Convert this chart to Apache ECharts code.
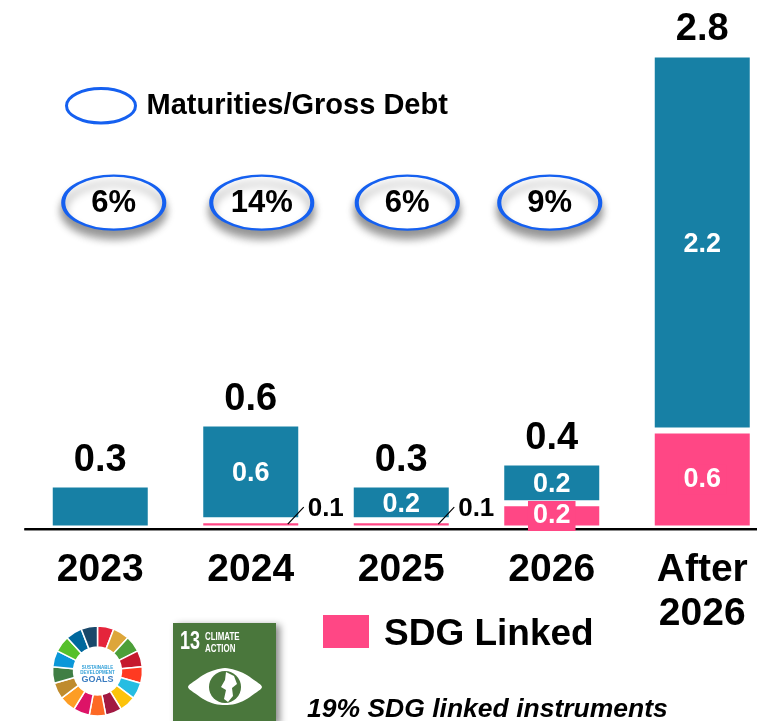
<!DOCTYPE html>
<html>
<head>
<meta charset="utf-8">
<style>html,body{margin:0;padding:0;background:#fff}#c{width:757px;height:721px}</style>
<script src="https://cdn.jsdelivr.net/npm/echarts@6/dist/echarts.min.js"></script>
</head>
<body>
<div id="c"></div>
<script>
var categories = ['2023', '2024', '2025', '2026', 'After\n2026'];
var conventional = [0.26, 0.57, 0.21, 0.24, 2.22];
var sdgLinked = [null, 0.05, 0.05, 0.15, 0.58];
var conventionalLabels = ['', '0.6', '0.2', '0.2', '2.2'];
var sdgLabels = ['', '', '', '0.2', '0.6'];
var totalLabels = ['0.3', '0.6', '0.3', '0.4', '2.8'];
var calloutLabels = ['', '0.1', '0.1', '', ''];
var maturityShare = ['6%', '14%', '6%', '9%'];
var sdgGoalColors = ['#E5243B','#DDA63A','#4C9F38','#C5192D','#FF3A21','#26BDE2','#FCC30B','#A21942','#FD6925','#DD1367','#FD9D24','#BF8B2E','#3F7E44','#0A97D9','#56C02B','#00689D','#19486A'];

var BLUE = '#1780A5', PINK = '#FF4785', RING = '#1560F0', FONT = '"Liberation Sans", Arial, sans-serif';
var ellipseNudge = [13.5, 11, 6, -2];
var ellipseLevel = 1.925;

var totals = conventional.map(function (v, i) { return +(v + (sdgLinked[i] || 0)).toFixed(2); });

var chart = echarts.init(document.getElementById('c'), null, { renderer: 'canvas' });
chart.setOption({
  animation: false,
  backgroundColor: '#fff',
  textStyle: { fontFamily: FONT },
  grid: { left: 25, top: 20.6, width: 752.5, height: 508, outerBoundsMode: 'none' },
  xAxis: {
    type: 'category', data: categories, z: 10,
    axisTick: { show: false },
    axisLine: { lineStyle: { color: '#000', width: 2, shadowColor: '#888', shadowOffsetY: 1, shadowBlur: 0 } },
    axisLabel: { interval: 0, fontSize: 39, fontWeight: 'bold', color: '#000', lineHeight: 44, margin: 20, fontFamily: FONT }
  },
  yAxis: { type: 'value', min: 0, max: 3, show: false, splitLine: { show: false } },
  legend: [
    { data: ['Maturities/Gross Debt'], left: 65, top: 87, padding: 0, itemWidth: 69, itemHeight: 36, selectedMode: false,
      icon: 'path://M0,50a100,50 0 1,0 200,0a100,50 0 1,0 -200,0z',
      itemStyle: { shadowBlur: 0, shadowOffsetY: 0, color: '#fff', borderColor: RING, borderWidth: 3 },
      textStyle: { fontSize: 29, fontWeight: 'bold', color: '#000', fontFamily: FONT, padding: [2, 0, 0, 6] } },
    { data: ['SDG Linked'], left: 323, top: 615, padding: 0, itemWidth: 46, itemHeight: 33, selectedMode: false,
      icon: 'rect',
      itemStyle: { borderWidth: 0, color: PINK },
      formatter: '{a|{name}}',
      textStyle: { color: '#000', padding: [0, 0, 0, 10],
        rich: { a: { fontSize: 37, fontWeight: 'bold', color: '#000', fontFamily: FONT, padding: [6, 0, 0, 0] } } } }
  ],
  series: [
    { name: 'SDG Linked', type: 'bar', stack: 'debt', barWidth: 101, z: 2,
      itemStyle: { color: PINK, borderColor: '#fff', borderWidth: 3 },
      data: sdgLinked },
    { name: 'Conventional', type: 'bar', stack: 'debt', barWidth: 101, z: 2,
      itemStyle: { color: BLUE, borderColor: '#fff', borderWidth: 3 },
      data: conventional.map(function (v, i) {
        return { value: v, label: conventionalLabels[i] ? {
          show: true, position: 'inside', offset: [0, 2], formatter: conventionalLabels[i], color: '#fff', fontSize: 27, fontWeight: 'bold', fontFamily: FONT } : { show: false } };
      }) },
    { name: 'SDG value labels', type: 'scatter', z: 12, symbol: 'circle', symbolSize: 1, silent: true,
      itemStyle: { color: 'rgba(0,0,0,0)', opacity: 1 },
      data: sdgLabels.map(function (t, i) { return t ? [i, sdgLinked[i] / 2] : [i, null]; }),
      label: { show: true, position: 'inside', color: '#fff', fontSize: 27, fontWeight: 'bold', fontFamily: FONT,
        backgroundColor: PINK, padding: [2, 5, 1, 5],
        formatter: function (p) { return sdgLabels[p.dataIndex]; } } },
    { name: 'Total', type: 'line', data: totals, symbol: 'circle', symbolSize: 1, showSymbol: true, showAllSymbol: true, z: 3,
      lineStyle: { opacity: 0, width: 0 }, itemStyle: { color: 'rgba(0,0,0,0)' },
      label: { show: true, position: 'top', distance: 5, fontSize: 38, fontWeight: 'bold', color: '#000', fontFamily: FONT,
        formatter: function (p) { return totalLabels[p.dataIndex]; } } },
    { name: 'Maturities/Gross Debt', type: 'scatter', z: 4, symbol: 'circle', symbolSize: [101, 54],
      itemStyle: { color: '#fff', opacity: 1, borderColor: RING, borderWidth: 3, shadowColor: 'rgba(0,0,0,0.42)', shadowBlur: 8, shadowOffsetY: 8 },
      data: maturityShare.map(function (s, i) {
        return { value: [i, ellipseLevel], symbolOffset: [ellipseNudge[i], 0] };
      }),
      label: { show: true, position: 'inside', offset: [0, 1], fontSize: 31, fontWeight: 'bold', color: '#000', fontFamily: FONT,
        formatter: function (p) { return maturityShare[p.dataIndex]; } } },
    { name: 'Callouts', type: 'custom', z: 5, silent: true, clip: false,
      encode: { x: 0, y: 1 },
      data: calloutLabels.map(function (t, i) { return [i, sdgLinked[i] || 0]; }),
      renderItem: function (params, api) {
        var text = calloutLabels[params.dataIndex];
        if (!text) return null;
        var p = api.coord([api.value(0), api.value(1)]);
        return { type: 'group', children: [
          { type: 'line', shape: { x1: p[0] + 37, y1: p[1] + 4, x2: p[0] + 53, y2: p[1] - 13 }, style: { stroke: '#000', lineWidth: 1.2 } },
          { type: 'text', x: p[0] + 75, y: p[1] - 11, style: { text: text, fill: '#000', font: 'bold 26px ' + FONT, align: 'center', verticalAlign: 'middle' } }
        ] };
      } },
    { name: 'SDG wheel', type: 'pie', silent: true, center: [97.5, 671], radius: [24, 45], startAngle: 90,
      label: { show: false }, labelLine: { show: false },
      itemStyle: { borderColor: '#fff', borderWidth: 1.5 },
      data: sdgGoalColors.map(function (c, i) { return { value: 1, name: 'Goal ' + (i + 1), itemStyle: { color: c } }; }) }
  ],
  graphic: [
    { type: 'text', silent: true, z: 20, x: 97.5, y: 665,
      style: { text: 'SUSTAINABLE\nDEVELOPMENT', fill: '#2F9FD8', font: 'bold 4.5px ' + FONT, align: 'center', lineHeight: 5 } },
    { type: 'text', silent: true, z: 20, x: 97.5, y: 675,
      style: { text: 'GOALS', fill: '#3A7CC0', font: 'bold 9px ' + FONT, align: 'center' } },
    { type: 'rect', silent: true, z: 20, shape: { x: 173, y: 623, width: 103, height: 100 },
      style: { fill: '#4A773C', shadowColor: 'rgba(0,0,0,0.45)', shadowBlur: 7, shadowOffsetX: 4, shadowOffsetY: 2 } },
    { type: 'text', silent: true, z: 21, x: 180, y: 630, scaleX: 0.72,
      style: { text: '13', fill: '#fff', font: 'bold 25px ' + FONT } },
    { type: 'text', silent: true, z: 21, x: 205, y: 631, scaleX: 0.72,
      style: { text: 'CLIMATE\nACTION', fill: '#fff', font: 'bold 11px ' + FONT, lineHeight: 12 } },
    { type: 'polygon', silent: true, z: 21,
      shape: { points: [[188,687],[196,680],[205,674],[215,670],[225,668],[235,670],[245,674],[254,680],[262,687],[254,694],[245,700],[235,704],[225,705],[215,704],[205,700],[196,694]], smooth: 0.3 },
      style: { fill: '#fff' } },
    { type: 'circle', silent: true, z: 22, shape: { cx: 225, cy: 687, r: 16 }, style: { fill: '#4A773C' } },
    { type: 'polygon', silent: true, z: 23,
      shape: { points: [[226,672],[234,676],[237,684],[232,688],[233,696],[228,702],[224,699],[226,690],[221,687],[225,680]] },
      style: { fill: '#fff' } },
    { type: 'text', silent: true, z: 20, x: 307, y: 696,
      style: { text: '19% SDG linked instruments', fill: '#000', font: 'italic bold 26.5px ' + FONT } }
  ]
});
</script>
</body>
</html>
